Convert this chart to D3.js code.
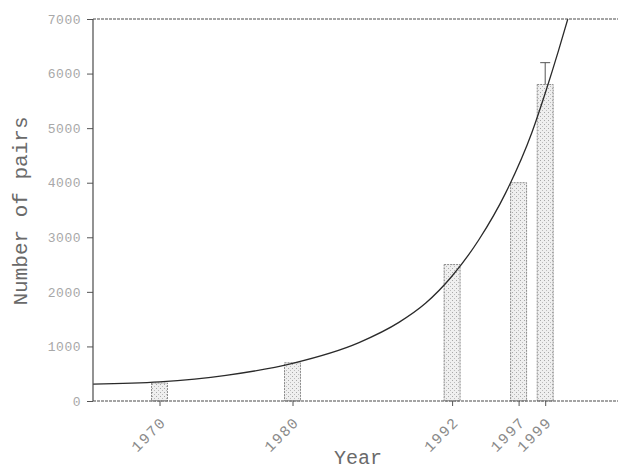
<!DOCTYPE html>
<html>
<head>
<meta charset="utf-8">
<script src="https://cdn.jsdelivr.net/npm/d3@7"></script>
<style>
  body { margin: 0; background: #fff; }
  text { font-family: "Liberation Mono", "Courier New", monospace; }
</style>
</head>
<body>
<svg id="chart" width="618" height="470"></svg>
<script>
// bars (survey years) and counts
const years = [1970, 1980, 1992, 1997, 1999];
const pairs = [330, 700, 2500, 4000, 5800];
// upper end of error bar, only the last survey has one
const errUpper = [null, null, null, null, 6200];

// fitted curve
const curveYears = [1965, 1970, 1975, 1980, 1985, 1988, 1990, 1992, 1994, 1996, 1998, 1999, 2000, 2000.7];
const curveVals = [310, 350, 470, 690, 1070, 1440, 1790, 2290, 2950, 3800, 4920, 5640, 6420, 7000];

const yTicks = [0, 1000, 2000, 3000, 4000, 5000, 6000, 7000];

const plotLeft = 93, plotRight = 625, plotTop = 19, plotBottom = 401;

const svg = d3.select("#chart");

const x = d3.scaleLinear().domain([1965, 2005]).range([plotLeft, plotRight]);
const y = d3.scaleLinear().domain([0, 7000]).range([plotBottom, plotTop]);

// stipple fill for bars
const defs = svg.append("defs");
const pat = defs.append("pattern")
  .attr("id", "stip")
  .attr("width", 4).attr("height", 4)
  .attr("patternUnits", "userSpaceOnUse");
pat.append("rect").attr("width", 4).attr("height", 4).attr("fill", "#efefef");
pat.append("rect").attr("x", 0).attr("y", 0).attr("width", 1).attr("height", 1).attr("fill", "#a8a8a8");
pat.append("rect").attr("x", 2).attr("y", 2).attr("width", 1).attr("height", 1).attr("fill", "#bcbcbc");

defs.append("clipPath").attr("id", "plot")
  .append("rect").attr("x", plotLeft).attr("y", plotTop)
  .attr("width", 618 - plotLeft).attr("height", plotBottom - plotTop);

// Bars
const halfW = 0.6;
svg.append("g")
  .selectAll("rect")
  .data(years)
  .enter()
  .append("rect")
  .attr("x", (d) => x(d - halfW))
  .attr("width", (d) => x(d + halfW) - x(d - halfW))
  .attr("y", (d, i) => y(pairs[i]))
  .attr("height", (d, i) => y(0) - y(pairs[i]))
  .attr("fill", "url(#stip)")
  .attr("stroke", "#8a8a8a")
  .attr("stroke-width", 1)
  .attr("stroke-dasharray", "2,1");

// Error bar
const eb = svg.append("g").attr("stroke", "#555").attr("stroke-width", 1);
years.forEach((yr, i) => {
  if (errUpper[i] == null) return;
  eb.append("line")
    .attr("x1", x(yr)).attr("x2", x(yr))
    .attr("y1", y(pairs[i])).attr("y2", y(errUpper[i]));
  eb.append("line")
    .attr("x1", x(yr) - 5).attr("x2", x(yr) + 5)
    .attr("y1", y(errUpper[i])).attr("y2", y(errUpper[i]));
});

// Curve
const line = d3.line()
  .x((d, i) => x(curveYears[i]))
  .y((d) => y(d))
  .curve(d3.curveMonotoneX);

svg.append("path")
  .datum(curveVals)
  .attr("clip-path", "url(#plot)")
  .attr("d", line)
  .attr("fill", "none")
  .attr("stroke", "#2a2a2a")
  .attr("stroke-width", 1.3);

// Axes
const axisCol = "#555";

const yAxis = svg.append("g")
  .attr("transform", "translate(" + plotLeft + ",0)")
  .call(d3.axisLeft(y).tickValues(yTicks).tickSize(6).tickPadding(6)
    .tickFormat(d3.format("d")).tickSizeOuter(0));
yAxis.select(".domain").remove();
yAxis.selectAll("line").attr("stroke", axisCol);
yAxis.selectAll("text")
  .attr("fill", "#a8a8a8")
  .style("font-size", "13px")
  .style("letter-spacing", "0.5px");

const xAxis = svg.append("g")
  .attr("transform", "translate(0," + plotBottom + ")")
  .call(d3.axisBottom(x).tickValues(years).tickSize(5).tickFormat(d3.format("d")).tickSizeOuter(0));
xAxis.select(".domain").remove();
xAxis.selectAll("line").attr("stroke", axisCol);
xAxis.selectAll("text")
  .attr("fill", "#8a8a8a")
  .style("font-size", "15px")
  .style("letter-spacing", "1.5px")
  .attr("text-anchor", "end")
  .attr("dy", null)
  .attr("y", 0)
  .attr("transform", "translate(7,22) rotate(-45)");

// frame: left axis, bottom axis, top line
const frame = svg.append("g").attr("stroke", "#4a4a4a").attr("stroke-width", 1.2).attr("fill", "none");
frame.append("line").attr("x1", plotLeft).attr("x2", plotLeft).attr("y1", plotTop).attr("y2", plotBottom);
frame.append("line").attr("x1", plotLeft).attr("x2", 618).attr("y1", plotBottom).attr("y2", plotBottom)
  .attr("stroke-dasharray", "3,1");
frame.append("line").attr("x1", plotLeft).attr("x2", 618).attr("y1", plotTop).attr("y2", plotTop)
  .attr("stroke-dasharray", "3,1");

// Axis titles
svg.append("text")
  .attr("transform", "translate(27,211) rotate(-90)")
  .attr("text-anchor", "middle")
  .attr("fill", "#6a6a6a")
  .style("font-size", "21px")
  .text("Number of pairs");

svg.append("text")
  .attr("x", 358)
  .attr("y", 464)
  .attr("text-anchor", "middle")
  .attr("fill", "#6a6a6a")
  .style("font-size", "20px")
  .text("Year");
</script>
</body>
</html>
